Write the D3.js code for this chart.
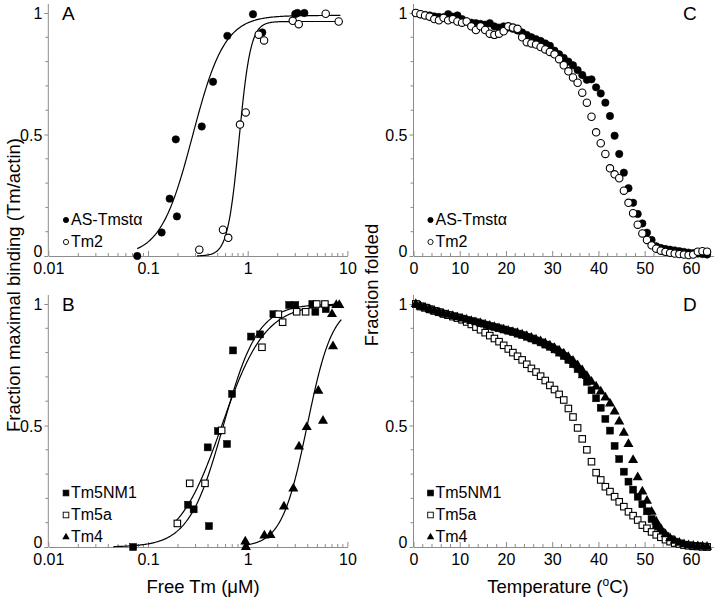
<!DOCTYPE html>
<html><head><meta charset="utf-8">
<script src="https://cdn.jsdelivr.net/npm/d3@7"></script>
<style>
body{margin:0;background:#fff}
svg{display:block}
text{font-family:"Liberation Sans",Arial,Helvetica,sans-serif;fill:#000}
</style>
</head><body>
<svg id="chart" width="714" height="601"></svg>
<script>
// ---------- Panel A: binding (free Tm, µM vs fraction) ----------
const asX  = [0.078, 0.137, 0.165, 0.195, 0.19, 0.346, 0.449, 0.625, 1.13, 1.40, 3.0, 3.15, 3.70];
const asY  = [0.0, 0.097, 0.236, 0.163, 0.48, 0.533, 0.717, 0.906, 0.995, 0.92, 0.996, 1.0, 1.0];
const tm2X = [0.327, 0.565, 0.638, 0.837, 0.955, 1.29, 1.46, 2.83, 3.25, 6.06, 8.18];
const tm2Y = [0.026, 0.108, 0.075, 0.541, 0.591, 0.911, 0.887, 0.968, 0.954, 0.997, 0.965];
// fit parameters: [top, K, n, xFrom, xTo]
const asFit  = [0.99, 0.28, 2.7, 0.078, 8.5];
const tm2Fit = [0.965, 0.82, 7.5, 0.31, 8.5];

// ---------- Panel B ----------
const nm1X = [0.071, 0.252, 0.287, 0.409, 0.397, 0.503, 0.62, 0.697, 0.713, 1.08, 1.33, 1.81, 2.61, 3.0, 4.45, 4.77, 6.06];
const nm1Y = [0.0, 0.174, 0.155, 0.086, 0.41, 0.477, 0.424, 0.63, 0.809, 0.866, 0.875, 0.958, 0.996, 0.996, 1.0, 0.968, 0.979];
const t5aX = [0.197, 0.262, 0.373, 0.548, 1.39, 2.03, 2.24, 3.10, 3.81, 4.92, 5.95];
const t5aY = [0.097, 0.262, 0.262, 0.48, 0.822, 0.958, 0.925, 0.968, 0.968, 1.0, 1.0];
const tm4X = [0.946, 0.96, 1.47, 1.69, 2.31, 2.87, 3.27, 3.91, 5.11, 5.69, 7.17, 7.01, 7.74, 8.3];
const tm4Y = [0.022, 0.0, 0.047, 0.049, 0.166, 0.24, 0.413, 0.493, 0.643, 0.519, 0.826, 0.958, 0.996, 0.996];
const nm1Fit = [1.0, 0.57, 2.5, 0.045, 8.5];
const t5aFit = [1.0, 0.55, 2.0, 0.19, 8.5];
const tm4Fit = [1.0, 3.95, 3.4, 0.93, 8.7];

// ---------- Panels C & D: melting (temperature, °C) ----------
const temps = [0.5,1.5,2.5,3.5,4.5,5.5,6.5,7.5,8.5,9.5,10.5,11.5,12.5,13.5,14.5,15.5,16.5,17.5,18.5,19.5,
  20.5,21.5,22.5,23.5,24.5,25.5,26.5,27.5,28.5,29.5,30.5,31.5,32.5,33.5,34.5,35.5,36.5,37.5,38.5,39.5,
  40.5,41.5,42.5,43.5,44.5,45.5,46.5,47.5,48.5,49.5,50.5,51.5,52.5,53.5,54.5,55.5,56.5,57.5,58.5,59.5,
  60.5,61.5,62.5,63.5];
const asC = [1.0,0.995,0.992,0.99,0.986,0.984,0.982,0.995,0.985,0.99,
  0.975,0.965,0.96,0.958,0.955,0.952,0.958,0.945,0.94,0.945,
  0.94,0.935,0.928,0.92,0.91,0.9,0.892,0.885,0.875,0.865,
  0.845,0.83,0.815,0.80,0.785,0.765,0.745,0.725,0.727,0.694,
  0.669,0.631,0.576,0.495,0.42,0.343,0.279,0.219,0.173,0.134,
  0.096,0.066,0.04,0.033,0.029,0.026,0.023,0.02,0.017,0.014,
  0.012,0.01,0.008,0.006];
const tm2C = [1.0,0.995,0.99,0.985,0.975,0.97,0.98,0.97,0.975,0.965,
  0.96,0.965,0.945,0.93,0.945,0.93,0.915,0.91,0.915,0.925,
  0.945,0.94,0.935,0.9,0.88,0.875,0.87,0.86,0.85,0.84,
  0.83,0.81,0.785,0.76,0.735,0.713,0.672,0.631,0.573,0.509,
  0.464,0.42,0.361,0.336,0.32,0.269,0.219,0.176,0.129,0.093,
  0.066,0.044,0.03,0.022,0.017,0.013,0.01,0.008,0.006,0.004,
  0.006,0.018,0.02,0.018];
const nm1D = [1.0,0.99,0.985,0.978,0.972,0.966,0.96,0.955,0.95,0.945,
  0.94,0.935,0.93,0.925,0.92,0.915,0.91,0.905,0.9,0.895,
  0.89,0.884,0.878,0.872,0.865,0.858,0.85,0.842,0.833,0.824,
  0.813,0.8,0.786,0.77,0.752,0.732,0.71,0.68,0.645,0.612,
  0.573,0.527,0.479,0.416,0.362,0.31,0.269,0.236,0.207,0.176,
  0.147,0.115,0.085,0.062,0.045,0.032,0.022,0.015,0.01,0.007,
  0.005,0.003,0.002,0.001];
const t5aD = [1.0,0.99,0.985,0.978,0.972,0.966,0.96,0.954,0.948,0.942,
  0.935,0.926,0.916,0.905,0.894,0.882,0.87,0.858,0.845,0.83,
  0.815,0.8,0.785,0.77,0.752,0.735,0.72,0.703,0.685,0.665,
  0.648,0.628,0.605,0.57,0.535,0.49,0.445,0.4,0.351,0.306,
  0.276,0.248,0.228,0.207,0.186,0.166,0.145,0.129,0.111,0.09,
  0.077,0.062,0.05,0.04,0.03,0.022,0.016,0.012,0.008,0.005,
  0.003,0.002,0.001,0.0];
const tm4D = [1.0,0.99,0.985,0.978,0.972,0.966,0.96,0.955,0.95,0.945,
  0.94,0.935,0.93,0.925,0.92,0.915,0.91,0.905,0.9,0.895,
  0.89,0.885,0.88,0.874,0.868,0.861,0.854,0.846,0.838,0.829,
  0.819,0.808,0.796,0.782,0.766,0.748,0.727,0.703,0.68,0.66,
  0.64,0.615,0.59,0.557,0.516,0.47,0.424,0.358,0.287,0.228,
  0.19,0.145,0.105,0.075,0.052,0.036,0.025,0.017,0.011,0.007,
  0.005,0.003,0.002,0.001];

// ---------- tick labels / texts ----------
const logTicks = [0.01, 0.1, 1, 10];
const logTickLabels = ["0.01", "0.1", "1", "10"];
const tempTicks = [0, 10, 20, 30, 40, 50, 60];
const yTicks = [0, 0.5, 1];
const yTickLabels = ["0", "0.5", "1"];

// ---------- drawing ----------
const svg = d3.select("#chart");
const AX = "#8c8c8c";
const xLog = d3.scaleLog().domain([0.01, 10]).range([48.3, 347.4]);
const xT = d3.scaleLinear().domain([0, 65]).range([413.5, 714]);
const yTop = d3.scaleLinear().domain([0, 1]).range([256, 13]);
const yBot = d3.scaleLinear().domain([0, 1]).range([547, 304]);

function yAxis(xpos, ys) {
  const g = svg.append("g").attr("transform", `translate(${xpos},0)`);
  g.call(d3.axisLeft(ys).tickValues(yTicks).tickFormat((d, i) => yTickLabels[i])
      .tickSizeInner(4).tickSizeOuter(0).tickPadding(2));
  g.select(".domain").remove();
  g.selectAll(".tick line").attr("stroke", AX);
  g.selectAll(".tick text").attr("font-size", 16).attr("font-family", null)
    .attr("dy", d => d === 0 ? "0em" : "0.36em");
  const minors = d3.range(1, 10).map(i => i / 10).filter(v => v !== 0.5);
  g.selectAll(".mn").data(minors).join("line")
    .attr("x1", -3).attr("x2", 0).attr("y1", d => ys(d)).attr("y2", d => ys(d)).attr("stroke", AX);
  g.append("line").attr("x1", 0).attr("x2", 0).attr("y1", ys(0)).attr("y2", ys(1) - 9)
    .attr("stroke", AX).attr("stroke-width", 1);
}

function xAxisLog(ys) {
  const y0 = ys(0);
  const g = svg.append("g").attr("transform", `translate(0,${y0})`);
  g.call(d3.axisBottom(xLog).tickValues(logTicks).tickFormat((d, i) => logTickLabels[i])
      .tickSizeInner(-5).tickSizeOuter(0).tickPadding(7));
  g.select(".domain").attr("stroke", AX);
  g.selectAll(".tick line").attr("stroke", AX);
  g.selectAll(".tick text").attr("font-size", 16).attr("font-family", null);
  const minors = [];
  [0.01, 0.1, 1].forEach(dec => { for (let m = 2; m <= 9; m++) minors.push(dec * m); });
  g.selectAll(".mn").data(minors).join("line")
    .attr("x1", d => xLog(d)).attr("x2", d => xLog(d)).attr("y1", 0).attr("y2", -3).attr("stroke", AX);
}

function xAxisTemp(ys) {
  const y0 = ys(0);
  const g = svg.append("g").attr("transform", `translate(0,${y0})`);
  g.call(d3.axisBottom(xT).tickValues(tempTicks).tickFormat(d3.format("d"))
      .tickSizeInner(-5).tickSizeOuter(0).tickPadding(7));
  g.select(".domain").attr("stroke", AX);
  g.selectAll(".tick line").attr("stroke", AX);
  g.selectAll(".tick text").attr("font-size", 16).attr("font-family", null);
  const minors = d3.range(2, 65, 2).filter(v => v % 10 !== 0);
  g.selectAll(".mn").data(minors).join("line")
    .attr("x1", d => xT(d)).attr("x2", d => xT(d)).attr("y1", 0).attr("y2", -3).attr("stroke", AX);
}

yAxis(48.3, yTop); yAxis(48.3, yBot);
yAxis(413.5, yTop); yAxis(413.5, yBot);
xAxisLog(yTop); xAxisLog(yBot);
xAxisTemp(yTop); xAxisTemp(yBot);

// fit curves
function fitCurve(p, ys) {
  const [top, k, n, x0, x1] = p;
  const l0 = Math.log10(x0), l1 = Math.log10(x1);
  const pts = d3.range(0, 201).map(i => {
    const x = Math.pow(10, l0 + (l1 - l0) * i / 200);
    const r = Math.pow(x / k, n);
    return [x, top * r / (1 + r)];
  });
  svg.append("path").datum(pts)
    .attr("d", d3.line().x(d => xLog(d[0])).y(d => ys(d[1])))
    .attr("fill", "none").attr("stroke", "#000").attr("stroke-width", 1.2);
}

// markers
function circles(xs, ys, xv, yv, filled, r) {
  svg.append("g").selectAll("circle").data(xv.map((x, i) => [x, yv[i]])).join("circle")
    .attr("cx", d => xs(d[0])).attr("cy", d => ys(d[1])).attr("r", r)
    .attr("fill", filled ? "#000" : "#fff").attr("stroke", "#000").attr("stroke-width", filled ? 0.6 : 1.1);
}
function squares(xs, ys, xv, yv, filled, s) {
  svg.append("g").selectAll("rect").data(xv.map((x, i) => [x, yv[i]])).join("rect")
    .attr("x", d => xs(d[0]) - s / 2).attr("y", d => ys(d[1]) - s / 2).attr("width", s).attr("height", s)
    .attr("fill", filled ? "#000" : "#fff").attr("stroke", "#000").attr("stroke-width", filled ? 0.5 : 1.1);
}
function triangles(xs, ys, xv, yv, size) {
  const sym = d3.symbol().type(d3.symbolTriangle).size(size);
  svg.append("g").selectAll("path").data(xv.map((x, i) => [x, yv[i]])).join("path")
    .attr("transform", d => `translate(${xs(d[0])},${ys(d[1])})`).attr("d", sym)
    .attr("fill", "#000");
}

// Panel A
fitCurve(asFit, yTop);
fitCurve(tm2Fit, yTop);
circles(xLog, yTop, asX, asY, true, 3.7);
circles(xLog, yTop, tm2X, tm2Y, false, 3.7);

// Panel B
fitCurve(nm1Fit, yBot);
fitCurve(t5aFit, yBot);
fitCurve(tm4Fit, yBot);
squares(xLog, yBot, nm1X, nm1Y, true, 7);
squares(xLog, yBot, t5aX, t5aY, false, 6.5);
triangles(xLog, yBot, tm4X, tm4Y, 44);

// Panel C
circles(xT, yTop, temps, asC, true, 3.7);
circles(xT, yTop, temps, tm2C, false, 3.7);

// Panel D
squares(xT, yBot, temps, nm1D, true, 7);
squares(xT, yBot, temps, t5aD, false, 6.5);
triangles(xT, yBot, temps, tm4D, 44);

// legends
function legend(x, y0, items) {
  items.forEach((it, i) => {
    const y = y0 + i * 22;
    const g = svg.append("g");
    if (it.m === "c") g.append("circle").attr("cx", x).attr("cy", y - 5).attr("r", 2.6)
      .attr("fill", it.f ? "#000" : "#fff").attr("stroke", "#000").attr("stroke-width", 0.9);
    if (it.m === "s") g.append("rect").attr("x", x - 2.8).attr("y", y - 7.8).attr("width", 5.6).attr("height", 5.6)
      .attr("fill", it.f ? "#000" : "#fff").attr("stroke", "#000").attr("stroke-width", 0.9);
    if (it.m === "t") g.append("path").attr("transform", `translate(${x},${y - 5})`)
      .attr("d", d3.symbol().type(d3.symbolTriangle).size(24)).attr("fill", "#000");
    g.append("text").attr("x", x + 5).attr("y", y).attr("font-size", 16).text(it.t);
  });
}
const legAB1 = [{m: "c", f: true, t: "AS-Tmstα"}, {m: "c", f: false, t: "Tm2"}];
const legAB2 = [{m: "s", f: true, t: "Tm5NM1"}, {m: "s", f: false, t: "Tm5a"}, {m: "t", f: true, t: "Tm4"}];
legend(66, 225, legAB1);
legend(66, 498, legAB2);
legend(430.5, 225, legAB1);
legend(430.5, 498, legAB2);

// panel letters
[["A", 62, 20], ["B", 62, 311], ["C", 683, 20], ["D", 683, 311]].forEach(([t, x, y]) =>
  svg.append("text").attr("x", x).attr("y", y).attr("font-size", 19).text(t));

// axis titles
svg.append("text").attr("transform", "translate(20,285) rotate(-90)").attr("text-anchor", "middle")
  .attr("font-size", 18.5).text("Fraction maximal binding (Tm/actin)");
svg.append("text").attr("transform", "translate(378,285) rotate(-90)").attr("text-anchor", "middle")
  .attr("font-size", 18.5).text("Fraction folded");
svg.append("text").attr("x", 203).attr("y", 593).attr("text-anchor", "middle")
  .attr("font-size", 18.5).text("Free Tm (μM)");
const tt = svg.append("text").attr("x", 558).attr("y", 593).attr("text-anchor", "middle").attr("font-size", 18.5);
tt.append("tspan").text("Temperature (");
tt.append("tspan").attr("font-size", 12).attr("dy", -7).text("o");
tt.append("tspan").attr("dy", 7).text("C)");
</script>
</body></html>
